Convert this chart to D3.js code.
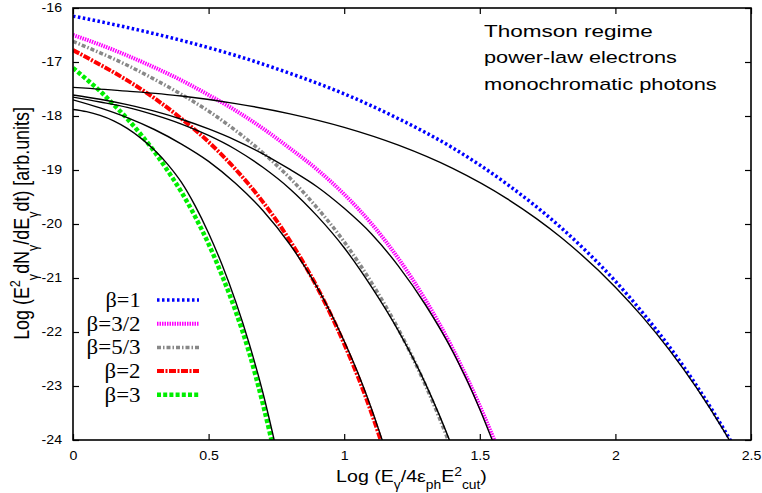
<!DOCTYPE html>
<html><head><meta charset="utf-8">
<script src="https://cdn.jsdelivr.net/npm/d3@7"></script>
<style>body{margin:0;background:#fff}svg{display:block}</style>
</head><body>
<svg id="c" width="762" height="493"></svg>
<script>
// ---- data ----
const xTicks = [0, 0.5, 1, 1.5, 2, 2.5];
const xTickLabels = ["0", "0.5", "1", "1.5", "2", "2.5"];
const yTicks = [-16, -17, -18, -19, -20, -21, -22, -23, -24];
const yTickLabels = ["-16", "-17", "-18", "-19", "-20", "-21", "-22", "-23", "-24"];

const legendLabels = ["β=1", "β=3/2", "β=5/3", "β=2", "β=3"];
const annotation = ["Thomson regime", "power-law electrons", "monochromatic photons"];

// beta = 1
const xB1 = [0, 0.2, 0.4, 0.6, 0.8, 1.0, 1.2, 1.4, 1.6, 1.8, 2.0, 2.1, 2.2, 2.3, 2.4, 2.45];
const yB1 = [-16.15, -16.36, -16.60, -16.88, -17.21, -17.59, -18.05, -18.59, -19.26, -20.07, -21.06, -21.64, -22.28, -23.00, -23.80, -24.23];
const yB1exact = [-17.47, -17.54, -17.63, -17.77, -17.96, -18.21, -18.54, -18.97, -19.53, -20.25, -21.17, -21.72, -22.34, -23.04, -23.83, -24.26];
// beta = 3/2
const xB32 = [0, 0.1, 0.2, 0.3, 0.4, 0.5, 0.6, 0.7, 0.8, 0.9, 1.0, 1.1, 1.2, 1.3, 1.4, 1.5, 1.55, 1.6];
const yB32 = [-16.50, -16.68, -16.88, -17.10, -17.34, -17.61, -17.90, -18.23, -18.60, -18.99, -19.45, -19.99, -20.64, -21.41, -22.31, -23.37, -23.96, -24.58];
const yB32exact = [-17.61, -17.69, -17.79, -17.91, -18.06, -18.24, -18.45, -18.70, -18.99, -19.31, -19.71, -20.18, -20.78, -21.50, -22.36, -23.43, -24.05, -24.62];
// beta = 5/3
const xB53 = [0, 0.1, 0.2, 0.3, 0.4, 0.5, 0.6, 0.7, 0.8, 0.9, 1.0, 1.1, 1.2, 1.3, 1.35, 1.4];
const yB53 = [-16.62, -16.83, -17.06, -17.32, -17.60, -17.91, -18.27, -18.68, -19.15, -19.70, -20.33, -21.08, -21.95, -22.99, -23.58, -24.22];
const yB53exact = [-17.65, -17.74, -17.84, -17.98, -18.15, -18.36, -18.62, -18.95, -19.35, -19.85, -20.44, -21.16, -21.98, -22.96, -23.53, -24.15];
// beta = 2
const xB2 = [0, 0.1, 0.2, 0.3, 0.4, 0.5, 0.6, 0.7, 0.8, 0.9, 1.0, 1.05, 1.1, 1.15];
const yB2 = [-16.78, -17.05, -17.34, -17.67, -18.05, -18.48, -18.99, -19.59, -20.31, -21.17, -22.22, -22.82, -23.49, -24.24];
const yB2exact = [-17.70, -17.85, -18.03, -18.25, -18.52, -18.84, -19.25, -19.75, -20.38, -21.17, -22.17, -22.75, -23.41, -24.15];
// beta = 3
const xB3 = [0, 0.05, 0.1, 0.15, 0.2, 0.25, 0.3, 0.35, 0.4, 0.45, 0.5, 0.55, 0.6, 0.65, 0.7, 0.75];
const yB3 = [-17.11, -17.32, -17.54, -17.79, -18.05, -18.34, -18.66, -19.02, -19.41, -19.86, -20.37, -20.96, -21.62, -22.39, -23.33, -24.40];
const yB3exact = [-17.88, -17.92, -17.99, -18.09, -18.23, -18.41, -18.63, -18.90, -19.23, -19.66, -20.17, -20.76, -21.44, -22.22, -23.12, -24.18];

// ---- styles ----
const colored = [
  {xs: xB1, ys: yB1, color: "#0000ff", width: 3.5, dash: "2.5,2.5"},
  {xs: xB32, ys: yB32, color: "#ff00ff", width: 4, dash: "1.5,1"},
  {xs: xB53, ys: yB53, color: "#888888", width: 3.5, dash: "4,2,1.5,2"},
  {xs: xB2, ys: yB2, color: "#ff0000", width: 4, dash: "7,1.5,2,1.5"},
  {xs: xB3, ys: yB3, color: "#00ee00", width: 4.5, dash: "4,2.2"}
];
const exact = [
  {xs: xB1, ys: yB1exact}, {xs: xB32, ys: yB32exact}, {xs: xB53, ys: yB53exact},
  {xs: xB2, ys: yB2exact}, {xs: xB3, ys: yB3exact}
];

const L = 73, R = 751, T = 8, B = 440;
const x = d3.scaleLinear().domain([0, 2.5]).range([L, R]);
const y = d3.scaleLinear().domain([-24, -16]).range([B, T]);
const svg = d3.select("#c");
const SANS = "'Liberation Sans', Arial, Helvetica, sans-serif";
const SERIF = "'Liberation Serif', 'Times New Roman', serif";

svg.append("defs").append("clipPath").attr("id", "clip")
  .append("rect").attr("x", L).attr("y", T).attr("width", R - L).attr("height", B - T);

// axes (ticks inside, mirrored)
const tickSX = 1.18;
const gB = svg.append("g").attr("transform", `translate(0,${B})`)
  .call(d3.axisBottom(x).tickValues(xTicks).tickSize(-6).tickSizeOuter(0).tickPadding(11.5)
    .tickFormat((d, i) => xTickLabels[i]));
const gLft = svg.append("g").attr("transform", `translate(${L},0)`)
  .call(d3.axisLeft(y).tickValues(yTicks).tickSize(-6).tickSizeOuter(0).tickPadding(9.3)
    .tickFormat((d, i) => yTickLabels[i]));
const gTop = svg.append("g").attr("transform", `translate(0,${T})`)
  .call(d3.axisTop(x).tickValues(xTicks).tickSize(-6).tickSizeOuter(0).tickFormat(""));
const gRgt = svg.append("g").attr("transform", `translate(${R},0)`)
  .call(d3.axisRight(y).tickValues(yTicks).tickSize(-6).tickSizeOuter(0).tickFormat(""));
[gB, gLft, gTop, gRgt].forEach(g => {
  g.select(".domain").remove();
  g.selectAll(".tick line").attr("stroke", "#000").attr("stroke-width", 1.2);
  g.selectAll(".tick text").attr("font-family", SANS).attr("font-size", 12).attr("fill", "#000")
    .attr("transform", `scale(${tickSX},1)`);
});

// curves
const line = d3.line().x(d => x(d[0])).y(d => y(d[1])).curve(d3.curveMonotoneX);
const plot = svg.append("g").attr("clip-path", "url(#clip)");
colored.forEach(s => {
  plot.append("path").datum(s.xs.map((v, i) => [v, s.ys[i]]))
    .attr("d", line).attr("fill", "none").attr("stroke", s.color)
    .attr("stroke-width", s.width).attr("stroke-dasharray", s.dash);
});
exact.forEach(s => {
  plot.append("path").datum(s.xs.map((v, i) => [v, s.ys[i]]))
    .attr("d", line).attr("fill", "none").attr("stroke", "#000").attr("stroke-width", 1.4);
});

// frame
svg.append("rect").attr("x", L).attr("y", T).attr("width", R - L).attr("height", B - T)
  .attr("fill", "none").attr("stroke", "#000").attr("stroke-width", 1.6);

// helper: stretch a text to a measured width along its direction
function fitted(tx, ty, width, anchor, family, size, build, extra) {
  const g = svg.append("g");
  const t = g.append("text").attr("text-anchor", anchor).attr("font-family", family)
    .attr("font-size", size).attr("fill", "#000");
  build(t);
  const w = t.node().getComputedTextLength();
  const k = w > 0 ? width / w : 1;
  g.attr("transform", `translate(${tx},${ty}) ` + (extra ? extra(k) : `scale(${k},1)`));
  return g;
}

// legend
const legendW = [35, 54, 54, 36, 36];
legendLabels.forEach((lab, i) => {
  const ry = 300 + i * 23.7;
  fitted(140.5, ry + 7, legendW[i], "end", SERIF, 20, t => t.text(lab));
  const s = colored[i];
  svg.append("line").attr("x1", 157).attr("x2", 199).attr("y1", ry).attr("y2", ry)
    .attr("stroke", s.color).attr("stroke-width", s.width).attr("stroke-dasharray", s.dash);
});

// annotation
const annW = [169, 193, 233];
annotation.forEach((txt, i) => {
  fitted(484, 37 + i * 26.3, annW[i], "start", SANS, 17, t => t.text(txt));
});

// sub/superscript builder
function rich(parts) {
  return t => parts.forEach(([s, m]) => {
    const ts = t.append("tspan").text(s);
    if (m !== 0) ts.attr("font-size", 12).attr("baseline-shift", m > 0 ? "super" : "sub");
  });
}

// x label
fitted(411.5, 482, 151, "middle", SANS, 17,
  rich([["Log (E", 0], ["γ", -1], ["/4ε", 0], ["ph", -1], ["E", 0], ["2", 1], ["cut", -1], [")", 0]]));

// y label (rotated)
fitted(29, 223.5, 233, "middle", SANS, 17,
  rich([["Log (E", 0], ["2", 1], ["γ", -1], ["dN", 0], ["γ", -1], ["/dE", 0], ["γ", -1], ["dt) [arb.units]", 0]]),
  k => `scale(1.25,${k}) rotate(-90)`);
</script>
</body></html>
